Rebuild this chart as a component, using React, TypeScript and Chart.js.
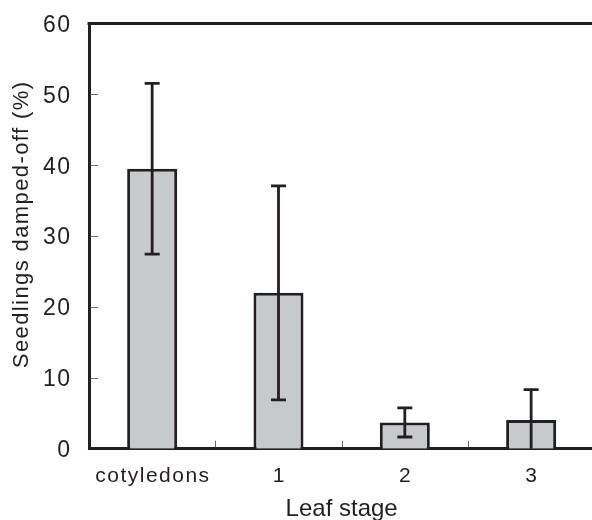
import React, { useEffect, useRef } from 'react';
import { Chart, registerables } from 'chart.js';

Chart.register(...registerables);

// ---- data ----
const categories = ['cotyledons', '1', '2', '3'];
const damped = [39.5, 22.0, 3.7, 4.05];
const errorBars = [12.05, 15.1, 2.05, 4.3];
const yMin = 0;
const yMax = 60;
const yStep = 10;
const xTitle = 'Leaf stage';
const yTitle = 'Seedlings damped-off (%)';

// ---- style ----
const INK = '#231f20';
const BAR_FILL = '#c8c9cb';
const FONT = "'Liberation Sans', Arial, sans-serif";

// letter spacing (px) keyed by font size string
const SPACING: Record<string, number> = { '23px': 1.4, '21px': 1.5 };

function patchLetterSpacing(ctx: any) {
  if (ctx.__lsPatched) return;
  const orig = ctx.fillText;
  ctx.__origFillText = orig;
  ctx.fillText = function (text: string, x: number, y: number, maxWidth?: number) {
    const m = /(\d+(?:\.\d+)?)px/.exec(this.font);
    const key = m ? m[1] + 'px' : '';
    const ls = SPACING[key] !== undefined ? SPACING[key] : 0;
    const prev = this.letterSpacing;
    this.letterSpacing = ls + 'px';
    let dx = 0;
    if (this.textAlign === 'center') dx = ls / 2;
    else if (this.textAlign === 'right' || this.textAlign === 'end') dx = ls;
    if (maxWidth === undefined || maxWidth === null) orig.call(this, text, x + dx, y);
    else orig.call(this, text, x + dx, y, maxWidth);
    this.letterSpacing = prev;
  };
  ctx.__lsPatched = true;
}

const letterSpacingPlugin = {
  id: 'letterSpacingPatch',
  beforeDraw(chart: any) {
    patchLetterSpacing(chart.ctx);
  },
};

const errorBarPlugin = {
  id: 'errorBars',
  afterDatasetsDraw(chart: any) {
    const ctx = chart.ctx;
    const y = chart.scales.y;
    const meta = chart.getDatasetMeta(0);
    const { left, right, top, bottom } = chart.chartArea;
    ctx.save();
    ctx.beginPath();
    ctx.rect(left, top - 5, right - left, bottom - top + 5);
    ctx.clip();
    ctx.strokeStyle = INK;
    ctx.lineWidth = 2.8;
    ctx.lineCap = 'butt';
    meta.data.forEach((bar: any, i: number) => {
      const x = bar.x;
      const yt = y.getPixelForValue(damped[i] + errorBars[i]);
      const yb = y.getPixelForValue(damped[i] - errorBars[i]);
      const cap = 7.5;
      ctx.beginPath();
      ctx.moveTo(x, yt);
      ctx.lineTo(x, yb);
      ctx.moveTo(x - cap, yt);
      ctx.lineTo(x + cap, yt);
      ctx.moveTo(x - cap, yb);
      ctx.lineTo(x + cap, yb);
      ctx.stroke();
    });
    ctx.restore();
  },
};

const framePlugin = {
  id: 'frameAndTicks',
  afterDraw(chart: any) {
    const ctx = chart.ctx;
    const { left, right, top, bottom } = chart.chartArea;
    const xs = chart.scales.x;
    const ys = chart.scales.y;
    ctx.save();
    // top frame line
    ctx.strokeStyle = INK;
    ctx.lineWidth = 3;
    ctx.beginPath();
    ctx.moveTo(left - 1.5, top);
    ctx.lineTo(right + 1.5, top);
    ctx.stroke();
    // inner tick marks
    ctx.strokeStyle = '#6b6b6b';
    ctx.lineWidth = 1;
    ctx.beginPath();
    ys.ticks.forEach((t: any) => {
      if (t.value <= yMin || t.value >= yMax) return;
      const py = Math.round(ys.getPixelForValue(t.value)) + 0.5;
      ctx.moveTo(left + 1.5, py);
      ctx.lineTo(left + 9, py);
    });
    for (let i = 0; i < categories.length - 1; i++) {
      const px = Math.round((xs.getPixelForValue(i) + xs.getPixelForValue(i + 1)) / 2) + 0.5;
      ctx.moveTo(px, bottom - 1.5);
      ctx.lineTo(px, bottom - 8);
    }
    ctx.stroke();
    // y-axis title
    ctx.translate(22.4, (top + bottom) / 2 - 11);
    ctx.rotate(-Math.PI / 2);
    ctx.font = `22px ${FONT}`;
    ctx.fillStyle = INK;
    ctx.textAlign = 'center';
    ctx.textBaseline = 'middle';
    ctx.letterSpacing = '1.4px';
    const fill = ctx.__origFillText || ctx.fillText;
    fill.call(ctx, yTitle, 0.7, 0);
    ctx.restore();
  },
};

export default function App() {
  const canvasRef = useRef<HTMLCanvasElement | null>(null);

  useEffect(() => {
    const canvas = canvasRef.current;
    if (!canvas) return;
    const chart = new Chart(canvas, {
      type: 'bar',
      data: {
        labels: categories,
        datasets: [
          {
            data: damped,
            backgroundColor: BAR_FILL,
            borderColor: INK,
            borderWidth: 3,
            barPercentage: 0.396,
            categoryPercentage: 1,
          },
        ],
      },
      options: {
        animation: false,
        responsive: false,
        devicePixelRatio: 1,
        layout: { padding: { left: 0, top: 23.5, right: 5.7, bottom: 5.9 } },
        plugins: {
          legend: { display: false },
          tooltip: { enabled: false },
          title: { display: false },
        },
        scales: {
          x: {
            type: 'category',
            z: 1,
            grid: { display: false, drawTicks: false },
            border: { display: true, color: INK, width: 3 },
            ticks: {
              color: INK,
              font: { family: FONT, size: 21 },
              padding: 14.7,
              maxRotation: 0,
              autoSkip: false,
            },
            title: {
              display: true,
              text: xTitle,
              color: INK,
              font: { family: FONT, size: 24 },
              padding: { top: 0, bottom: 0 },
            },
            afterFit: (s: any) => {
              s.height = 75.4;
              s.paddingLeft = 0;
              s.paddingRight = 0;
            },
          },
          y: {
            min: yMin,
            max: yMax,
            z: 1,
            grid: { display: false, drawTicks: false },
            border: { display: true, color: INK, width: 3 },
            ticks: {
              stepSize: yStep,
              color: INK,
              font: { family: FONT, size: 23 },
              padding: 19,
              labelOffset: 2,
            },
            afterFit: (s: any) => {
              s.width = 89;
              s.paddingTop = 0;
              s.paddingBottom = 0;
            },
          },
        },
      },
      plugins: [letterSpacingPlugin, errorBarPlugin, framePlugin],
    } as any);
    return () => chart.destroy();
  }, []);

  return (
    <div
      style={{
        position: 'absolute',
        left: 0,
        top: 0,
        width: 592,
        height: 520,
        overflow: 'hidden',
        background: '#ffffff',
      }}
    >
      <canvas ref={canvasRef} width={600} height={530} style={{ display: 'block' }} />
    </div>
  );
}
